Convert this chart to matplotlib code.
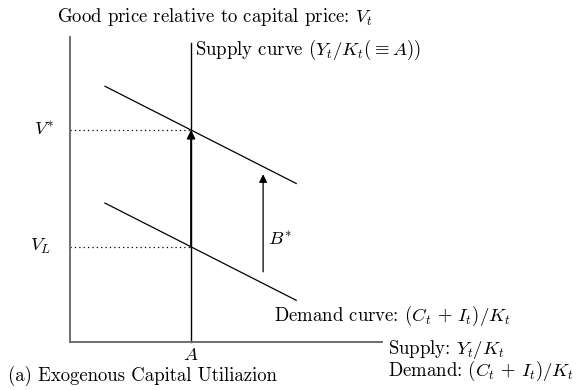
import matplotlib
matplotlib.use("Agg")
import matplotlib.pyplot as plt

plt.rcParams['font.family'] = ['cmr10', 'DejaVu Serif']
plt.rcParams['mathtext.fontset'] = 'cm'
plt.rcParams['axes.unicode_minus'] = False

# Model values (arbitrary units)
A = 3.88            # exogenous supply Y/K
V_star = 6.95       # equilibrium price with bubble
V_L = 3.12          # price without bubble
demand_slope = -0.52
demand_x = [1.12, 7.25]   # horizontal extent of the demand curves
supply_top = 9.8
bubble_arrow_x = 6.19
bubble_arrow_y = [2.30, 5.50]

fig = plt.figure(figsize=(5.82, 3.90), dpi=100)
ax = fig.add_axes([70/582, 48/390, 312/582, 305/390])
ax.set_xlim(0, 10)
ax.set_ylim(0, 10)
ax.set_xticks([])
ax.set_yticks([])
for s in ('top', 'right'):
    ax.spines[s].set_visible(False)
for s in ('left', 'bottom'):
    ax.spines[s].set_color('#6e6e6e')
    ax.spines[s].set_linewidth(1.4)

# Demand curves
def demand(v0, x):
    return v0 + demand_slope * (x - A)

for v0 in (V_star, V_L):
    ax.plot(demand_x, [demand(v0, x) for x in demand_x], color='black', lw=0.9,
            clip_on=False)

# Supply curve
ax.plot([A, A], [0, supply_top], color='black', lw=1.0, clip_on=False)

# Dotted guides
for v in (V_star, V_L):
    ax.plot([0, A], [v, v], color='black', lw=0.9, ls=(0, (1, 2.5)))

# Shift arrows
ax.annotate('', xy=(A, V_star), xytext=(A, V_L),
            arrowprops=dict(arrowstyle='-|>', color='black', lw=1.3,
                            mutation_scale=12, shrinkA=0, shrinkB=0))
ax.annotate('', xy=(bubble_arrow_x, bubble_arrow_y[1]),
            xytext=(bubble_arrow_x, bubble_arrow_y[0]),
            arrowprops=dict(arrowstyle='-|>', color='black', lw=0.9,
                            mutation_scale=12, shrinkA=0, shrinkB=0))

fs = 13.5
kw = dict(fontsize=fs, clip_on=False)
ax.text(-0.48, V_star, r'$V^{*}$', ha='right', va='center', **kw)
ax.text(-0.58, V_L, r'$V_L$', ha='right', va='center', **kw)
ax.text(A, -0.43, r'$A$', ha='center', va='center', **kw)
ax.text(6.35, 3.35, r'$B^{*}$', ha='left', va='center', **kw)
ax.text(4.0, 9.57, r'Supply curve $(Y_t/K_t(\equiv A))$',
        ha='left', va='center', **kw)
ax.text(6.54, 0.85, r'Demand curve: $(C_t\,+\,I_t)/K_t$',
        ha='left', va='center', **kw)
ax.text(10.19, -0.25, r'Supply: $Y_t/K_t$', ha='left', va='center', **kw)
ax.text(10.19, -0.95, r'Demand: $(C_t\,+\,I_t)/K_t$', ha='left', va='center', **kw)
ax.text(-0.42, 10.66, r'Good price relative to capital price: $V_t$',
        ha='left', va='center', **kw)
ax.text(-1.99, -1.1, '(a) Exogenous Capital Utiliazion', ha='left', va='center', **kw)

fig.savefig('out.png', dpi=100)
